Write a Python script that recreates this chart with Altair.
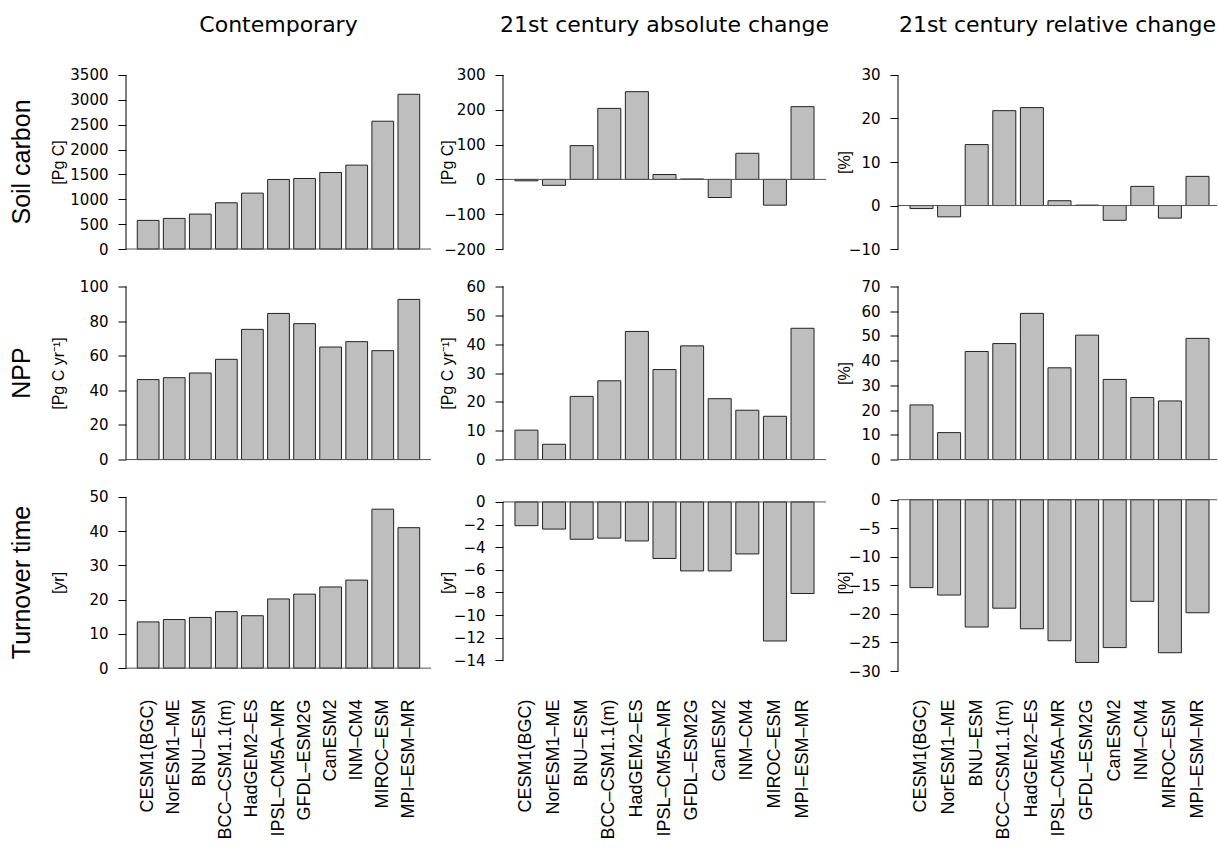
import altair as alt
import pandas as pd

models = ["CESM1(BGC)", "NorESM1–ME", "BNU–ESM", "BCC–CSM1.1(m)", "HadGEM2–ES",
          "IPSL–CM5A–MR", "GFDL–ESM2G", "CanESM2", "INM–CM4", "MIROC–ESM", "MPI–ESM–MR"]

soil_contemporary = [576, 616, 703, 930, 1124, 1399, 1419, 1539, 1687, 2570, 3112]
soil_abs_change = [-4, -17, 97, 204, 252, 14, 1, -52, 75, -74, 209]
soil_rel_change = [-0.7, -2.6, 14.0, 21.8, 22.5, 1.1, 0.1, -3.4, 4.4, -2.9, 6.7]
npp_contemporary = [46.2, 47.3, 50.0, 57.9, 75.2, 84.4, 78.5, 65.0, 68.1, 62.9, 92.5]
npp_abs_change = [10.2, 5.3, 21.9, 27.3, 44.4, 31.2, 39.4, 21.1, 17.1, 15.0, 45.5]
npp_rel_change = [22.1, 10.9, 43.7, 46.9, 59.1, 37.1, 50.3, 32.4, 25.1, 23.7, 49.0]
tau_contemporary = [13.5, 14.2, 14.8, 16.5, 15.3, 20.2, 21.6, 23.7, 25.7, 46.4, 41.0]
tau_abs_change = [-2.1, -2.4, -3.3, -3.2, -3.45, -5.0, -6.1, -6.1, -4.6, -12.3, -8.1]
tau_rel_change = [-15.4, -16.7, -22.3, -19.0, -22.6, -24.7, -28.5, -25.9, -17.8, -26.8, -19.8]

row_titles = ["Soil carbon", "NPP", "Turnover time"]
col_titles = ["Contemporary", "21st century absolute change", "21st century relative change"]
row_units = [["[Pg C]", "[Pg C]", "[%]"],
             ["[Pg C yr⁻¹]", "[Pg C yr⁻¹]", "[%]"],
             ["[yr]", "[yr]", "[%]"]]

y_limits = [[(0, 3500), (-200, 300), (-10, 30)],
            [(0, 100), (0, 60), (0, 70)],
            [(0, 50), (-14.7, 0.45), (-29.5, 0.5)]]
y_ticks = [[[0, 500, 1000, 1500, 2000, 2500, 3000, 3500], [-200, -100, 0, 100, 200, 300], [-10, 0, 10, 20, 30]],
           [[0, 20, 40, 60, 80, 100], [0, 10, 20, 30, 40, 50, 60], [0, 10, 20, 30, 40, 50, 60, 70]],
           [[0, 10, 20, 30, 40, 50], [-14, -12, -10, -8, -6, -4, -2, 0], [-30, -25, -20, -15, -10, -5, 0]]]

series = [[soil_contemporary, soil_abs_change, soil_rel_change],
          [npp_contemporary, npp_abs_change, npp_rel_change],
          [tau_contemporary, tau_abs_change, tau_rel_change]]

col_widths = [305, 323, 319]
row_heights = [188, 187, 185]
pad_outer = [0.4333, 0.4333, 0.3623]
band_align = [0.5, 0.5, 0.6]
unit_offset = [-68, -56, -54]

LAB_FONT = "DejaVu Sans"
ROT_FONT = "Liberation Sans"


def panel(r, c):
    w, h = col_widths[c], row_heights[r]
    lo, hi = y_limits[r][c]
    ext = 0.04 * (hi - lo)
    ticks = y_ticks[r][c]
    df = pd.DataFrame({"model": models, "value": series[r][c]})
    one = pd.DataFrame({"k": [0]})

    xscale = alt.Scale(domain=models, paddingInner=1 / 6, paddingOuter=pad_outer[c], align=band_align[c])
    if r == 2:
        xaxis = alt.Axis(title=None, labelAngle=270, labelAlign="right", labelBaseline="middle",
                         labelPadding=24, labelFont=ROT_FONT, labelFontSize=18, labelColor="black",
                         domain=False, ticks=False, labelOverlap=False, labelLimit=0)
    else:
        xaxis = None
    yaxis = alt.Axis(values=ticks, title=row_units[r][c], titleX=unit_offset[c], titleY=h / 2,
                     titleAngle=270, titleAlign="center", titleBaseline="middle",
                     titleFont=ROT_FONT, titleFontSize=16, titleFontWeight="normal", titleColor="black",
                     domain=False, grid=False, tickColor="black", tickSize=8, tickWidth=1,
                     labelPadding=10, labelFont=LAB_FONT, labelFontSize=15, labelColor="black",
                     format="d", labelOverlap=False)
    yscale = alt.Scale(domain=[lo - ext, hi + ext], nice=False, zero=False)

    bars = alt.Chart(df).mark_bar(fill="#bebebe", stroke="#222222", strokeWidth=1).encode(
        x=alt.X("model:N", scale=xscale, axis=xaxis, sort=models),
        y=alt.Y("value:Q", scale=yscale, axis=yaxis),
        y2=alt.datum(0),
    )
    zero = alt.Chart(one).mark_rule(color="#555555", strokeWidth=1).encode(
        y=alt.Y(datum=0, type="quantitative", scale=yscale, axis=yaxis),
        x=alt.value(0), x2=alt.value(w))
    yline = alt.Chart(one).mark_rule(color="black", strokeWidth=1).encode(
        x=alt.value(0),
        y=alt.Y(datum=ticks[0], type="quantitative", scale=yscale, axis=yaxis),
        y2=alt.datum(ticks[-1]))
    layers = [bars, zero, yline]
    if c == 0:
        rt = alt.Chart(one).mark_text(angle=270, fontSize=25, font=ROT_FONT, align="center",
                                      baseline="middle", color="black").encode(
            x=alt.value(-104), y=alt.value(h / 2), text=alt.value(row_titles[r]))
        layers.append(rt)
    ch = alt.layer(*layers).properties(width=w, height=h)
    if r == 0:
        ch = ch.properties(title=alt.TitleParams(col_titles[c], fontSize=22, font=LAB_FONT,
                                                 fontWeight="normal", color="black", anchor="middle",
                                                 frame="group", baseline="alphabetic", offset=14))
    return ch


panels = [panel(r, c) for r in range(3) for c in range(3)]
chart = alt.concat(*panels, columns=3, spacing={"row": 23.5, "column": 72}, bounds="flush").properties(
    padding={"left": 10, "top": 13, "right": 0, "bottom": 0}, background="white"
).configure_view(strokeWidth=0)

chart.save("out.html", embed_options={"renderer": "svg", "actions": False})
